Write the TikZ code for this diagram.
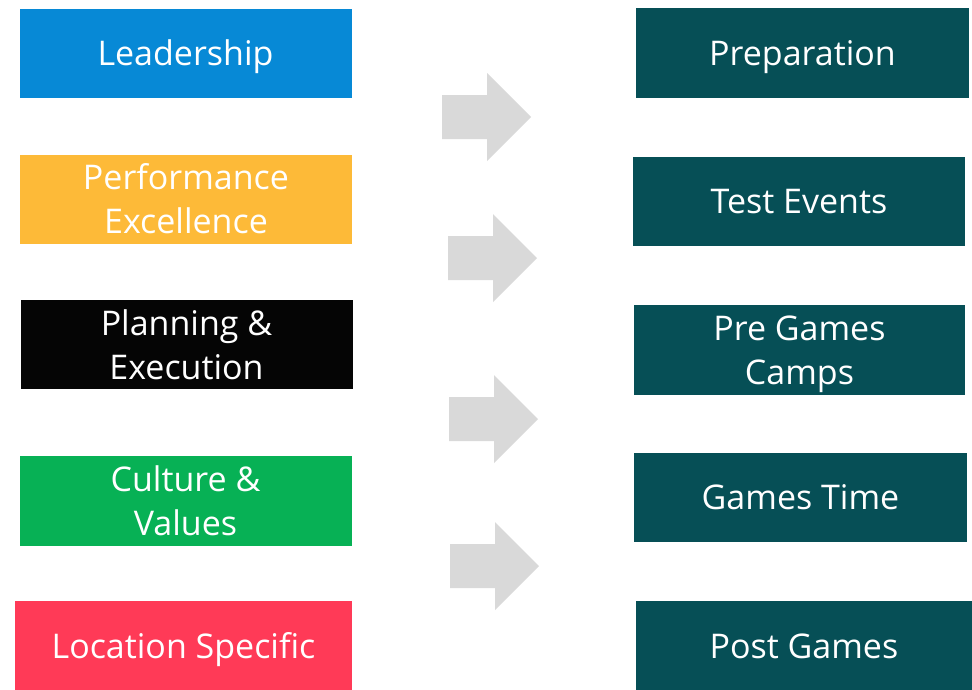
\documentclass[tikz,border=0pt]{standalone}
\usepackage{fontspec}
\setmainfont{Open Sans}
\definecolor{lblue}{HTML}{0789D6}
\definecolor{lyellow}{HTML}{FDBA38}
\definecolor{lblack}{HTML}{050505}
\definecolor{lgreen}{HTML}{07B155}
\definecolor{lred}{HTML}{FF3A57}
\definecolor{teal}{HTML}{064F56}
\definecolor{arrowgray}{HTML}{D9D9D9}

\begin{document}
\begin{tikzpicture}[x=1pt,y=-1pt,
	box/.style={rectangle,inner sep=0pt,minimum width=332pt,minimum height=89pt,
		text=white,align=center,font=\fontsize{34}{44}\selectfont},
	oneline/.style={text height=24pt,text depth=0pt},
	leftbox/.style={box},
	stagebox/.style={box,fill=teal}]
	\useasboundingbox (0,0) rectangle (972,689);
	% left column
	\node[leftbox,oneline,fill=lblue] (lead) at (185.5,53.5) {Leadership};
	\node[leftbox,fill=lyellow] (perf) at (186,199) {Performance\\Excellence};
	\node[leftbox,fill=lblack] (plan) at (186.5,344.5) {Planning \&\\Execution};
	\node[leftbox,fill=lgreen,minimum height=90pt] (cult) at (185.5,501) {Culture \&\\Values};
	\node[leftbox,oneline,fill=lred,minimum width=337pt,minimum height=90pt] (loc) at (183.5,646) {Location Specific};
	% arrows
	\foreach \a/\b in {442/117, 448/258, 449/419, 450/566}
	\fill[arrowgray] (\a,\b-22) -- ++(45,0) -- ++(0,-22) -- ++(44,44)
	-- ++(-44,44) -- ++(0,-22) -- ++(-45,0) -- cycle;
	% right column
	\node[stagebox,oneline,minimum width=333pt,minimum height=90pt] (prep) at (802.5,53) {Preparation};
	\node[stagebox,oneline] (test) at (799,201.5) {Test Events};
	\node[stagebox,text depth=0pt,minimum width=331pt,minimum height=90pt] (camp) at (799.5,350) {Pre Games\\Camps};
	\node[stagebox,oneline,minimum width=333pt] (time) at (800.5,497.5) {Games Time};
	\node[stagebox,oneline,minimum width=336pt,minimum height=90pt] (post) at (804,646) {Post Games};
\end{tikzpicture}
\end{document}
